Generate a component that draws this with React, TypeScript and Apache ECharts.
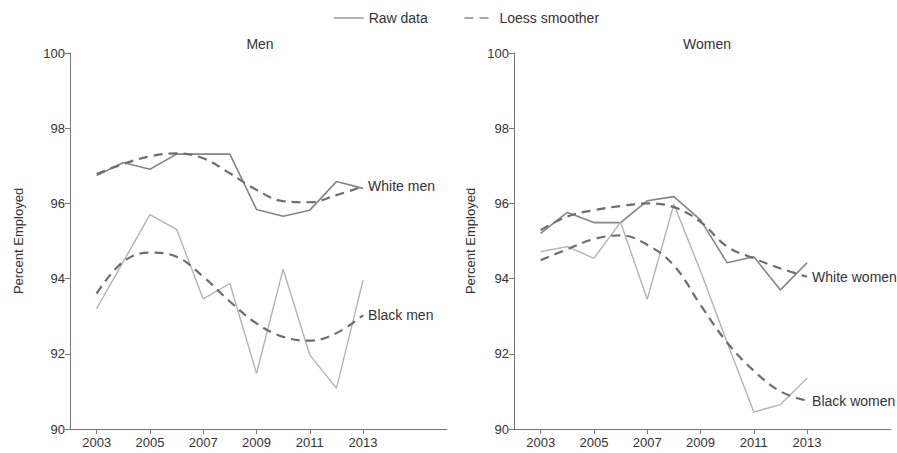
import React, { useEffect, useRef } from "react";
import * as echarts from "echarts";

const years = [2003, 2004, 2005, 2006, 2007, 2008, 2009, 2010, 2011, 2012, 2013];
const tickYears = [2003, 2005, 2007, 2009, 2011, 2013];

const whiteMenRaw = [96.74, 97.09, 96.91, 97.31, 97.31, 97.31, 95.84, 95.66, 95.82, 96.58, 96.4];
const whiteMenLoess = [96.78, 97.05, 97.25, 97.33, 97.2, 96.8, 96.36, 96.06, 96.03, 96.22, 96.45];
const blackMenRaw = [93.2, 94.45, 95.7, 95.31, 93.46, 93.87, 91.48, 94.25, 91.97, 91.08, 93.96];
const blackMenLoess = [93.6, 94.45, 94.69, 94.58, 94.05, 93.39, 92.81, 92.45, 92.35, 92.55, 93.03];

const whiteWomenRaw = [95.2, 95.76, 95.49, 95.49, 96.07, 96.18, 95.56, 94.42, 94.58, 93.7, 94.42];
const whiteWomenLoess = [95.29, 95.65, 95.82, 95.93, 96.0, 95.9, 95.51, 94.85, 94.54, 94.27, 94.05];
const blackWomenRaw = [94.72, 94.85, 94.54, 95.5, 93.45, 95.98, 94.2, 92.3, 90.45, 90.65, 91.35];
const blackWomenLoess = [94.49, 94.78, 95.05, 95.15, 94.9, 94.35, 93.3, 92.3, 91.55, 91.0, 90.75];

const panelTitles = ["Men", "Women"];
const legendNames = ["Raw data", "Loess smoother"];
const groupLabels = ["White men", "Black men", "White women", "Black women"];
const yName = "Percent Employed";

const FONT = "Liberation Sans, Arial, sans-serif";
const TXT = "#333";

const pair = (vals: number[]) => years.map((y, i) => [y, vals[i]]);

export default function App() {
  const ref = useRef<HTMLDivElement>(null);
  useEffect(() => {
    if (!ref.current) return;
    const chart = echarts.init(ref.current, undefined, { renderer: "svg" });

    const xAxisBase = (gridIndex: number) => ({
      type: "value",
      gridIndex,
      min: 2002,
      max: 2016.15,
      splitLine: { show: false },
      axisLine: { show: true, lineStyle: { color: "#777", width: 1 } },
      axisTick: { show: true, length: 5, lineStyle: { color: "#777" }, customValues: tickYears },
      axisLabel: { color: TXT, fontSize: 13, fontFamily: FONT, margin: 7, customValues: tickYears, formatter: (v: number) => String(v) },
    });
    const yAxisBase = (gridIndex: number, nameGap: number) => ({
      type: "value",
      gridIndex,
      min: 90,
      max: 100,
      interval: 2,
      name: yName,
      nameLocation: "middle",
      nameGap,
      nameTextStyle: { color: TXT, fontSize: 13, fontFamily: FONT },
      splitLine: { show: false },
      axisLine: { show: true, lineStyle: { color: "#777", width: 1 } },
      axisTick: { show: true, length: 5, lineStyle: { color: "#777" } },
      axisLabel: { color: TXT, fontSize: 13, fontFamily: FONT, margin: 5 },
    });

    const rawSeries = (vals: number[], idx: number, color: string, width: number) => ({
      type: "line",
      name: legendNames[0],
      xAxisIndex: idx,
      yAxisIndex: idx,
      data: pair(vals),
      showSymbol: false,
      symbol: "none",
      lineStyle: { color, width },
      itemStyle: { color },
      z: 2,
    });
    const loessSeries = (vals: number[], idx: number, label: string) => ({
      type: "line",
      name: legendNames[1],
      xAxisIndex: idx,
      yAxisIndex: idx,
      data: pair(vals),
      showSymbol: false,
      symbol: "none",
      smooth: 0.4,
      lineStyle: { color: "#6e6e6e", width: 2.2, type: [9, 6] },
      itemStyle: { color: "#6e6e6e" },
      endLabel: {
        show: true,
        formatter: () => label,
        distance: 5,
        color: TXT,
        fontSize: 14,
        fontFamily: FONT,
      },
      z: 3,
    });

    chart.setOption({
      animation: false,
      backgroundColor: "#fff",
      textStyle: { fontFamily: FONT },
      title: [
        { text: panelTitles[0], left: 255, top: 32, textAlign: "center", textStyle: { color: TXT, fontSize: 14, fontWeight: "normal", fontFamily: FONT } },
        { text: panelTitles[1], left: 702, top: 32, textAlign: "center", textStyle: { color: TXT, fontSize: 14, fontWeight: "normal", fontFamily: FONT } },
      ],
      legend: {
        data: legendNames,
        left: 333,
        top: 11,
        padding: 0,
        itemWidth: 30,
        itemHeight: 14,
        itemGap: 36,
        itemStyle: { opacity: 0 },
        lineStyle: { color: "#8a8a8a", width: 1.3 },
        textStyle: { color: TXT, fontSize: 14, fontFamily: FONT },
        selectedMode: false,
      },
      grid: [
        { left: 70, top: 53, width: 377, height: 376 },
        { left: 514, top: 53, width: 377, height: 376 },
      ],
      xAxis: [xAxisBase(0), xAxisBase(1)],
      yAxis: [yAxisBase(0, 45), yAxisBase(1, 37)],
      series: [
        rawSeries(whiteMenRaw, 0, "#858585", 1.6),
        rawSeries(blackMenRaw, 0, "#b3b3b3", 1.4),
        loessSeries(whiteMenLoess, 0, groupLabels[0]),
        loessSeries(blackMenLoess, 0, groupLabels[1]),
        rawSeries(whiteWomenRaw, 1, "#858585", 1.6),
        rawSeries(blackWomenRaw, 1, "#b3b3b3", 1.4),
        loessSeries(whiteWomenLoess, 1, groupLabels[2]),
        loessSeries(blackWomenLoess, 1, groupLabels[3]),
      ],
    });
    return () => chart.dispose();
  }, []);
  return <div ref={ref} style={{ position: "fixed", left: 0, top: 0, width: 897, height: 453 }} />;
}
